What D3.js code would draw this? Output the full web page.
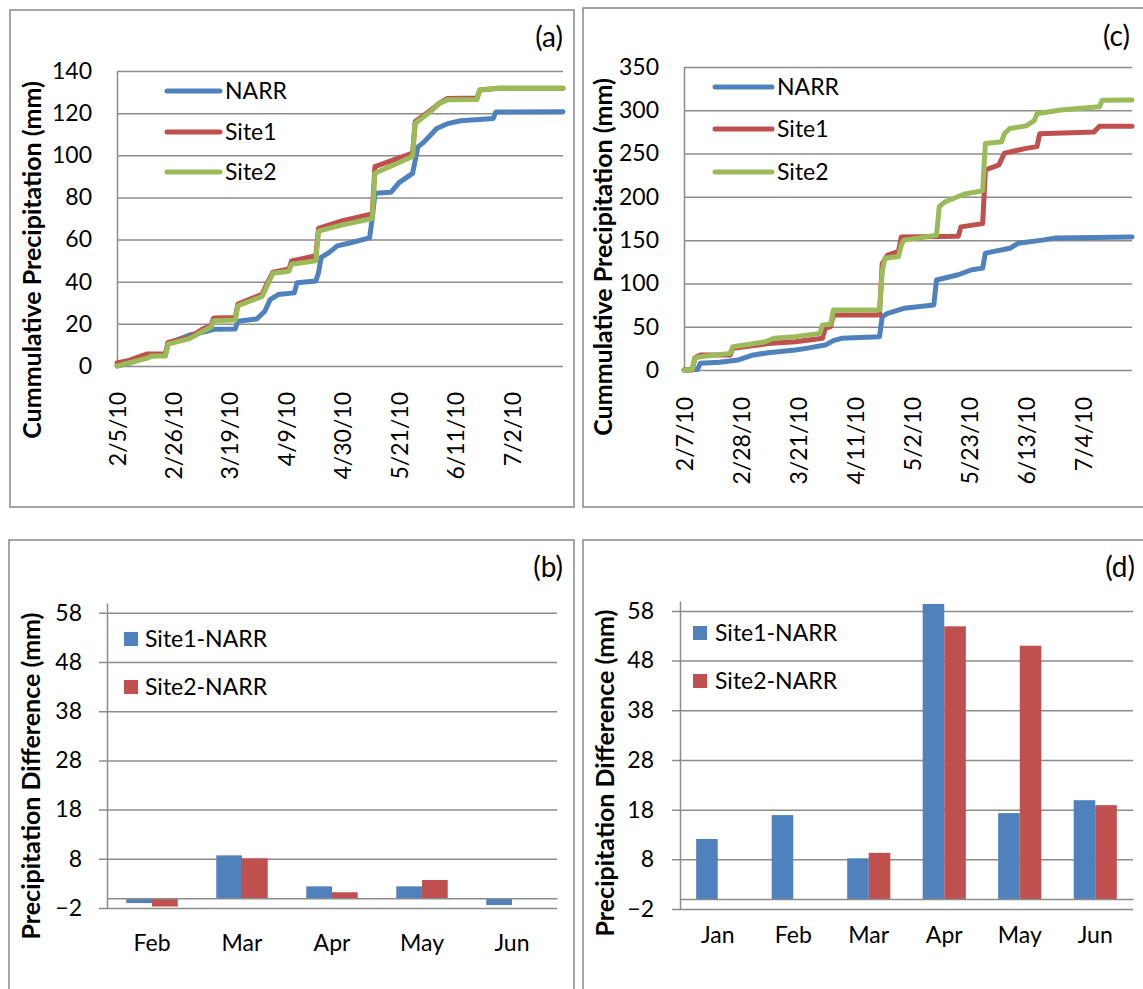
<!DOCTYPE html>
<html>
<head>
<meta charset="utf-8">
<script src="https://cdn.jsdelivr.net/npm/d3@7"></script>
<style>
  body { margin: 0; background: #fff; }
  svg text { font-family: Lato, "Open Sans", sans-serif; }
</style>
</head>
<body>
<svg id="chart" width="1143" height="989"></svg>
<script>
//----------data----------
// panel (a): cumulative precipitation, [date, mm]
const aNarr = [["2/5/10",0],["2/10/10",1.5],["2/16/10",4.6],["2/23/10",5.2],["2/24/10",10.8],["3/4/10",14.7],["3/10/10",16.3],["3/13/10",17.4],["3/21/10",17.6],["3/22/10",21.2],["3/29/10",22.3],["4/1/10",26],["4/3/10",31.5],["4/6/10",33.9],["4/12/10",34.7],["4/13/10",39.5],["4/20/10",40.3],["4/21/10",44.3],["4/22/10",51.5],["4/25/10",53.9],["4/28/10",57],["5/3/10",58.5],["5/10/10",60.8],["5/11/10",70],["5/12/10",82],["5/18/10",82.5],["5/21/10",87],["5/26/10",91.4],["5/28/10",104],["5/30/10",106],["6/2/10",110],["6/4/10",112.7],["6/8/10",115],["6/13/10",116.4],["6/25/10",117.5],["6/26/10",120.5],["7/21/10",120.7]];
const aSite1 = [["2/5/10",1.5],["2/9/10",2.5],["2/16/10",5.7],["2/23/10",5.8],["2/24/10",11.2],["3/4/10",13.6],["3/9/10",17.6],["3/12/10",19.2],["3/13/10",22.8],["3/21/10",23],["3/22/10",29.4],["3/31/10",34],["4/2/10",39.6],["4/4/10",44.5],["4/10/10",46],["4/11/10",49.9],["4/20/10",52.3],["4/21/10",65.3],["4/30/10",69],["5/11/10",72.2],["5/12/10",94.6],["5/26/10",101],["5/27/10",116],["6/2/10",121.6],["6/5/10",124.7],["6/8/10",127],["6/19/10",127.2],["6/20/10",131],["6/27/10",131.8],["7/21/10",131.8]];
const aSite2 = [["2/5/10",0],["2/16/10",3.6],["2/18/10",4.7],["2/23/10",4.7],["2/24/10",10.4],["3/4/10",13],["3/9/10",16.5],["3/12/10",18.5],["3/13/10",21.5],["3/21/10",21.8],["3/22/10",28.6],["3/31/10",33],["4/2/10",38.5],["4/4/10",44],["4/10/10",45],["4/11/10",48.3],["4/20/10",49.9],["4/21/10",64],["4/30/10",67],["5/11/10",70],["5/12/10",91.5],["5/26/10",99.4],["5/27/10",115.2],["6/2/10",121],["6/5/10",124.7],["6/8/10",126.3],["6/19/10",126.5],["6/20/10",131],["6/27/10",131.8],["7/21/10",131.8]];

// panel (c)
const cNarr = [["2/7/10",0],["2/12/10",0.5],["2/13/10",7.7],["2/20/10",9],["2/27/10",11.6],["3/4/10",17],["3/10/10",20],["3/20/10",23],["3/24/10",25],["3/31/10",28.8],["4/3/10",34],["4/6/10",36.6],["4/20/10",38.5],["4/21/10",61.6],["4/23/10",65.5],["4/29/10",71.3],["5/10/10",75],["5/11/10",104],["5/19/10",110],["5/24/10",115.8],["5/28/10",117.7],["5/29/10",135],["6/7/10",140.6],["6/10/10",146.4],["6/19/10",150],["6/24/10",152.6],["7/22/10",153.5]];
const cSite1 = [["2/7/10",0],["2/10/10",0],["2/11/10",14],["2/13/10",17.3],["2/24/10",17.3],["2/25/10",25],["3/10/10",30.5],["3/20/10",32.7],["3/30/10",36.6],["3/31/10",48],["4/2/10",50],["4/3/10",63.5],["4/20/10",63.5],["4/21/10",123],["4/23/10",132.8],["4/27/10",137],["4/28/10",153.5],["5/19/10",154.5],["5/20/10",165.3],["5/28/10",169.1],["5/29/10",231],["6/3/10",237],["6/5/10",250.5],["6/13/10",256],["6/17/10",258],["6/18/10",273],["7/8/10",275],["7/10/10",281.5],["7/22/10",281.5]];
const cSite2 = [["2/7/10",0],["2/10/10",0],["2/11/10",13.5],["2/13/10",15.4],["2/24/10",19.2],["2/25/10",26.9],["3/9/10",32.7],["3/12/10",36.6],["3/20/10",38.5],["3/29/10",42.3],["3/30/10",52],["4/2/10",53],["4/3/10",69.3],["4/20/10",69.3],["4/21/10",113.8],["4/22/10",129],["4/27/10",131],["4/28/10",144],["4/29/10",150],["5/11/10",155.6],["5/12/10",188.6],["5/14/10",194],["5/21/10",203],["5/28/10",207],["5/29/10",261.7],["6/4/10",263.6],["6/5/10",273],["6/7/10",279],["6/13/10",282],["6/16/10",288],["6/17/10",296],["6/25/10",300],["7/2/10",302],["7/10/10",304],["7/11/10",311.5],["7/22/10",312]];

const lineNames = ["NARR","Site1","Site2"];
const aDateTicks = ["2/5/10","2/26/10","3/19/10","4/9/10","4/30/10","5/21/10","6/11/10","7/2/10"];
const cDateTicks = ["2/7/10","2/28/10","3/21/10","4/11/10","5/2/10","5/23/10","6/13/10","7/4/10"];
const aTicks = [0,20,40,60,80,100,120,140];
const cTicks = [0,50,100,150,200,250,300,350];

// panels (b) and (d): monthly difference (mm)
const barNames = ["Site1-NARR","Site2-NARR"];
const bMonths = ["Feb","Mar","Apr","May","Jun"];
const bSite1 = [-1.0, 8.7, 2.4, 2.4, -1.4];
const bSite2 = [-1.7, 8.1, 1.2, 3.7, 0];
const dMonths = ["Jan","Feb","Mar","Apr","May","Jun"];
const dSite1 = [12.1, 16.9, 8.2, 59.4, 17.3, 19.9];
const dSite2 = [0, 0, 9.3, 54.9, 51.0, 18.9];
const barTicks = [-2,8,18,28,38,48,58];

//----------styles----------
const lineColors = ["#4f81bd","#c0504d","#9bbb59"];
const barColors = ["#4f81bd","#c0504d"];
const gridColor = "#8c8c8c";
const fontTick = 23, fontTitle = 25, fontLetter = 28;

const svg = d3.select("#chart");
const parseDate = d3.timeParse("%m/%d/%y");

function frame(f){
  svg.append("rect")
    .attr("x", f[0]).attr("y", f[1]).attr("width", f[2]).attr("height", f[3])
    .attr("fill", "none").attr("stroke", "#898989").attr("stroke-width", 1.5);
}

function yTitle(g, text, pos){
  g.append("text")
    .attr("transform", `translate(${pos[0]},${pos[1]}) rotate(-90)`)
    .attr("text-anchor", "middle").attr("dy", "0.35em")
    .attr("font-weight", "bold").attr("font-size", fontTitle)
    .text(text);
}

function letter(g, text, pos){
  g.append("text").attr("x", pos[0]).attr("y", pos[1])
    .attr("text-anchor", "end").attr("font-size", fontLetter).text(text);
}

//----------line panel----------
function drawLinePanel(p){
  frame(p.frame);
  let g = svg.append("g");

  let x = d3.scaleTime().domain(p.domain.map(parseDate)).range([p.left, p.right]);
  let y = d3.scaleLinear().domain([0, p.ymax]).range([p.bottom, p.top]);

  // value axis + gridlines
  let ya = g.append("g").attr("transform", `translate(${p.left},0)`)
    .call(d3.axisLeft(y).tickValues(p.yticks).tickSize(-(p.right - p.left)).tickSizeOuter(0).tickPadding(p.pad));
  ya.attr("font-family", null).attr("font-size", fontTick);
  ya.selectAll("path, line").attr("stroke", gridColor).attr("stroke-width", 1.5);
  ya.selectAll("text").attr("fill", "#000");

  // date labels, rotated
  let xa = g.append("g").attr("transform", `translate(0,${p.bottom})`)
    .call(d3.axisBottom(x).tickValues(p.xticks.map(parseDate))
      .tickFormat(d3.timeFormat("%-m/%-d/%y")).tickSize(0).tickPadding(0));
  xa.attr("font-family", null).attr("font-size", fontTick);
  xa.select(".domain").remove();
  xa.selectAll("text")
    .attr("transform", "rotate(-90)").attr("text-anchor", "end")
    .attr("x", -p.xpad).attr("y", 0).attr("dy", "0.35em").attr("fill", "#000");

  let line = d3.line().x(d => x(parseDate(d[0]))).y(d => y(d[1]));
  p.series.forEach((s, i) => {
    g.append("path").datum(s)
      .attr("d", line).attr("fill", "none")
      .attr("stroke", lineColors[i]).attr("stroke-width", 5)
      .attr("stroke-linejoin", "round").attr("stroke-linecap", "round");
  });

  // legend
  lineNames.forEach((name, i) => {
    g.append("line")
      .attr("x1", p.legend.x0).attr("x2", p.legend.x1)
      .attr("y1", p.legend.ys[i]).attr("y2", p.legend.ys[i])
      .attr("stroke", lineColors[i]).attr("stroke-width", 5).attr("stroke-linecap", "round");
    g.append("text").attr("x", p.legend.tx).attr("y", p.legend.ys[i]).attr("dy", "0.35em")
      .attr("font-size", fontTick).text(name);
  });

  letter(g, p.letter, p.letterPos);
  yTitle(g, "Cummulative Precipitation (mm)", p.titlePos);
}

//----------bar panel----------
function drawBarPanel(p){
  frame(p.frame);
  let g = svg.append("g");

  let x = d3.scaleBand().domain(p.months).range([p.left, p.right])
    .paddingInner(1.5 / 3.5).paddingOuter(0.75 / 3.5);
  let xs = d3.scaleBand().domain([0, 1]).range([0, x.bandwidth()]);
  let y = d3.scaleLinear().domain([-2, 60]).range([p.bottom, p.top]);

  let ya = g.append("g").attr("transform", `translate(${p.left},0)`)
    .call(d3.axisLeft(y).tickValues(barTicks).tickSize(-(p.right - p.left)).tickSizeOuter(0).tickPadding(p.pad));
  ya.attr("font-family", null).attr("font-size", fontTick);
  ya.selectAll("path, line").attr("stroke", gridColor).attr("stroke-width", 1.5);
  ya.selectAll(".tick line").attr("x1", -8);
  ya.selectAll("text").attr("fill", "#000");

  [p.site1, p.site2].forEach((vals, k) => {
    g.selectAll(null).data(vals).enter().append("rect")
      .attr("x", (d, i) => x(p.months[i]) + xs(k))
      .attr("width", xs.bandwidth())
      .attr("y", d => y(Math.max(0, d)))
      .attr("height", d => Math.abs(y(d) - y(0)))
      .attr("fill", barColors[k]);
  });

  // category axis sits at zero
  let xa = g.append("g").attr("transform", `translate(0,${y(0)})`)
    .call(d3.axisBottom(x).tickSize(0).tickSizeOuter(0).tickPadding(0));
  xa.attr("font-family", null).attr("font-size", fontTick);
  xa.select(".domain").attr("stroke", gridColor).attr("stroke-width", 1.5);
  xa.selectAll("text").attr("y", p.catY - y(0)).attr("dy", "0.35em").attr("fill", "#000");

  barNames.forEach((name, i) => {
    g.append("rect").attr("x", p.legend.x).attr("y", p.legend.ys[i] - 7)
      .attr("width", 14).attr("height", 14).attr("fill", barColors[i]);
    g.append("text").attr("x", p.legend.tx).attr("y", p.legend.ys[i]).attr("dy", "0.35em")
      .attr("font-size", fontTick).text(name);
  });

  letter(g, p.letter, p.letterPos);
  yTitle(g, "Precipitation Difference (mm)", p.titlePos);
}

drawLinePanel({
  frame: [10, 10, 564, 497], left: 117, right: 563, top: 71, bottom: 366,
  ymax: 140, yticks: aTicks, xticks: aDateTicks, domain: ["2/5/10", "7/21/10"],
  pad: 25, xpad: 26, series: [aNarr, aSite1, aSite2],
  legend: {x0: 167, x1: 220, tx: 225, ys: [91, 132, 172]},
  letter: "(a)", letterPos: [563, 47], titlePos: [32, 260]
});

drawLinePanel({
  frame: [583, 8, 570, 499], left: 684, right: 1132, top: 67, bottom: 370,
  ymax: 350, yticks: cTicks, xticks: cDateTicks, domain: ["2/7/10", "7/22/10"],
  pad: 25, xpad: 27, series: [cNarr, cSite1, cSite2],
  legend: {x0: 715, x1: 772, tx: 777, ys: [87, 129, 172]},
  letter: "(c)", letterPos: [1130, 46], titlePos: [603, 257]
});

drawBarPanel({
  frame: [9, 540, 565, 460], left: 107, right: 557, top: 603, bottom: 908,
  months: bMonths, site1: bSite1, site2: bSite2, pad: 25, catY: 943,
  legend: {x: 124, tx: 145, ys: [639, 687]},
  letter: "(b)", letterPos: [563, 577], titlePos: [31, 776]
});

drawBarPanel({
  frame: [583, 540, 570, 460], left: 680, right: 1133, top: 601, bottom: 909,
  months: dMonths, site1: dSite1, site2: dSite2, pad: 26, catY: 935,
  legend: {x: 693, tx: 715, ys: [633, 681]},
  letter: "(d)", letterPos: [1135, 577], titlePos: [605, 773]
});
</script>
</body>
</html>
